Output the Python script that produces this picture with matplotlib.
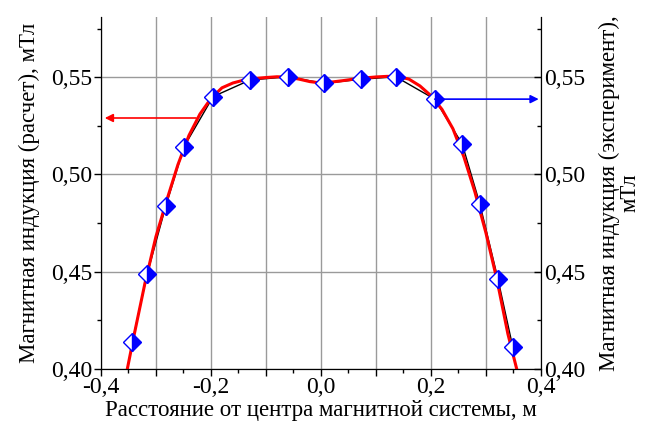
import numpy as np
import matplotlib
matplotlib.use("Agg")
import matplotlib.pyplot as plt
from matplotlib.ticker import MultipleLocator, FuncFormatter

plt.rcParams['font.family'] = ['Liberation Serif', 'DejaVu Serif']
plt.rcParams['font.size'] = 17

# Расчет (красная кривая)
x_calc = [-0.352, -0.34, -0.32, -0.30, -0.28, -0.26, -0.24, -0.22, -0.20, -0.18,
          -0.16, -0.14, -0.12, -0.10, -0.08, -0.06, -0.04, -0.02, 0.0, 0.02,
          0.04, 0.06, 0.08, 0.10, 0.12, 0.14, 0.16, 0.18, 0.20, 0.22,
          0.24, 0.26, 0.28, 0.30, 0.32, 0.34, 0.356]
b_calc = [0.400, 0.417, 0.444, 0.468, 0.487, 0.505, 0.520, 0.531, 0.539, 0.5445,
          0.547, 0.5485, 0.5493, 0.5498, 0.5502, 0.5500, 0.5490, 0.5477, 0.5470, 0.5475,
          0.5482, 0.5490, 0.5496, 0.5501, 0.5504, 0.5503, 0.5490, 0.5455, 0.5405, 0.5335,
          0.5235, 0.509, 0.491, 0.470, 0.446, 0.418, 0.400]

# Эксперимент (синие маркеры)
x_exp = [-0.343, -0.316, -0.282, -0.249, -0.196, -0.129, -0.060, 0.006, 0.072,
         0.136, 0.207, 0.257, 0.289, 0.322, 0.349]
b_exp = [0.4137, 0.4487, 0.4838, 0.5142, 0.5400, 0.5485, 0.5502, 0.5468, 0.5489,
         0.5502, 0.5387, 0.5156, 0.4848, 0.4461, 0.4111]

fig = plt.figure(figsize=(6.47, 4.32), dpi=100)
ax = fig.add_axes([0.156, 0.146, 0.680, 0.815])

ax.plot(x_exp, b_exp, color='black', lw=1.0, zorder=2)
ax.plot(x_calc, b_calc, color='red', lw=2.2, zorder=3)
ax.plot(x_exp, b_exp, ls='none', marker='D', markersize=9.5, fillstyle='right',
        markerfacecolor='blue', markerfacecoloralt='white', markeredgecolor='blue',
        markeredgewidth=1.0, zorder=4)

ax.set_xlim(-0.4, 0.4)
ax.set_ylim(0.40, 0.581)

comma = FuncFormatter(lambda v, p: f"{v:.2f}".replace('.', ','))
def xfmt(v, p):
    if abs(round(v / 0.2) * 0.2 - v) < 1e-6:
        s = f"{v:.1f}".replace('.', ',')
        return s.replace('-0,0', '0,0')
    return ''

ax.xaxis.set_major_locator(MultipleLocator(0.1))
ax.xaxis.set_minor_locator(MultipleLocator(0.05))
ax.xaxis.set_major_formatter(FuncFormatter(xfmt))
ax.yaxis.set_major_locator(MultipleLocator(0.05))
ax.yaxis.set_minor_locator(MultipleLocator(0.025))
ax.yaxis.set_major_formatter(comma)
ax.grid(True, which='major', color='#9a9a9a', lw=1.0)
ax.set_axisbelow(True)
ax.tick_params(which='major', direction='out', length=5, width=1, pad=1)
ax.tick_params(which='minor', direction='out', length=3, width=1)
ax.spines['top'].set_visible(False)

ax.set_xlabel("Расстояние от центра магнитной системы, м", labelpad=1, fontsize=16.5)
ax.set_ylabel("Магнитная индукция (расчет), мТл", labelpad=8, fontsize=16.5)

ax2 = ax.twinx()
ax2.set_ylim(ax.get_ylim())
ax2.yaxis.set_major_locator(MultipleLocator(0.05))
ax2.yaxis.set_minor_locator(MultipleLocator(0.025))
ax2.yaxis.set_major_formatter(comma)
ax2.tick_params(which='major', direction='in', length=5, width=1, pad=2)
ax2.tick_params(which='minor', direction='in', length=3, width=1)
ax2.spines['top'].set_visible(False)
ax2.set_ylabel("Магнитная индукция (эксперимент),\nмТл", labelpad=10,
               linespacing=1.0, fontsize=16.5)

ax.annotate('', xy=(-0.393, 0.529), xytext=(-0.227, 0.529),
            arrowprops=dict(arrowstyle='-|>', color='red', lw=1.2,
                            mutation_scale=12, shrinkA=0, shrinkB=0), zorder=5)
ax.annotate('', xy=(0.396, 0.5387), xytext=(0.207, 0.5387),
            arrowprops=dict(arrowstyle='-|>', color='blue', lw=1.2,
                            mutation_scale=12, shrinkA=0, shrinkB=0), zorder=5)

fig.savefig("out.png", dpi=100)
